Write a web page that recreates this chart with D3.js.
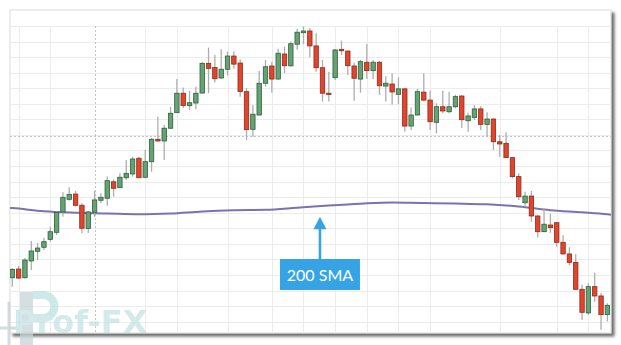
<!DOCTYPE html>
<html><head><meta charset="utf-8">
<script src="https://cdn.jsdelivr.net/npm/d3@7"></script>
<style>html,body{margin:0;padding:0;background:#fff;}svg{display:block;}</style>
</head><body>
<svg id="chart" width="621" height="345"></svg>
<script>
// ---- data (candle index 0..94) ----
const openP = [
38.2, 43.8, 38.2, 49.0, 55.2, 57.8, 62.9, 67.4, 80.5, 88.6,
92.0, 84.8, 69.9, 80.3, 88.0, 89.3, 99.9, 96.1, 102.5, 104.9,
115.0, 102.8, 112.8, 127.2, 126.1, 134.3, 144.3, 156.8, 148.8, 150.5,
156.9, 176.0, 173.3, 166.6, 172.2, 180.7, 176.2, 157.8, 133.6, 142.8,
163.2, 174.3, 165.9, 182.0, 174.4, 188.3, 195.7, 196.8, 187.2, 173.2,
156.8, 166.8, 185.0, 183.9, 174.3, 165.9, 176.7, 171.3, 176.7, 161.4,
162.7, 156.1, 159.6, 135.7, 142.8, 157.5, 152.4, 138.1, 148.1, 144.9,
148.1, 155.0, 139.1, 141.3, 146.7, 136.8, 140.2, 125.6, 124.6, 115.4,
103.2, 86.4, 90.7, 77.9, 67.8, 72.1, 73.6, 61.0, 53.5, 48.1,
30.8, 15.6, 32.5, 26.5, 14.5];
const highP = [
44.5, 45.8, 50.9, 61.8, 60.5, 63.9, 71.0, 81.1, 93.1, 96.3,
94.0, 86.1, 81.1, 94.0, 92.5, 103.2, 101.5, 105.3, 113.9, 116.0,
116.0, 120.3, 128.0, 141.7, 136.4, 148.1, 165.9, 160.5, 158.4, 161.0,
176.9, 186.1, 181.4, 185.0, 183.5, 183.8, 178.6, 160.0, 149.2, 171.2,
178.2, 177.1, 185.4, 186.7, 190.0, 198.2, 199.8, 198.7, 195.3, 178.2,
170.6, 185.2, 190.6, 184.3, 176.4, 178.2, 188.4, 178.2, 177.5, 167.9,
169.6, 166.9, 160.2, 147.6, 159.6, 169.6, 158.4, 150.3, 158.4, 157.8,
155.9, 155.7, 144.3, 149.2, 148.6, 144.5, 140.9, 130.0, 131.7, 115.8,
105.3, 93.5, 94.0, 78.5, 82.8, 79.2, 74.0, 65.7, 57.8, 53.5,
33.9, 34.6, 41.5, 28.6, 21.8];
const lowP = [
32.5, 37.4, 37.7, 43.2, 49.6, 56.0, 61.4, 65.7, 77.4, 87.7,
83.9, 66.8, 67.0, 77.4, 86.1, 84.5, 90.3, 95.7, 101.0, 103.2,
102.3, 102.1, 106.4, 125.8, 113.9, 133.8, 144.1, 147.1, 146.0, 146.5,
156.6, 156.8, 163.7, 165.9, 168.2, 172.5, 154.6, 126.7, 128.9, 142.5,
161.0, 157.1, 165.6, 169.6, 174.0, 184.8, 188.4, 179.9, 170.6, 151.4,
151.4, 165.3, 181.4, 168.5, 152.0, 157.1, 165.9, 165.9, 155.7, 151.4,
149.6, 149.9, 132.1, 133.2, 142.5, 151.4, 133.2, 131.0, 143.9, 143.9,
147.1, 134.5, 132.1, 139.6, 133.2, 128.9, 120.3, 116.0, 115.2, 102.1,
88.2, 83.9, 74.2, 64.1, 67.6, 67.1, 58.2, 53.2, 46.2, 30.7,
11.1, 14.3, 22.8, 4.8, 10.1];
const closeP = [
43.6, 38.0, 49.6, 55.4, 57.3, 61.4, 67.8, 80.3, 89.9, 91.8,
84.8, 70.0, 80.5, 88.2, 89.9, 100.6, 95.7, 102.8, 105.3, 114.5,
102.5, 112.8, 127.2, 126.1, 134.3, 143.9, 156.8, 148.9, 150.7, 156.8,
176.0, 172.8, 166.1, 172.2, 180.7, 175.5, 157.9, 133.4, 143.3, 163.2,
173.8, 165.9, 182.5, 174.5, 188.6, 196.0, 196.8, 187.2, 173.2, 156.8,
156.3, 184.6, 184.1, 174.5, 166.4, 177.1, 171.3, 176.7, 161.6, 163.2,
157.6, 159.6, 135.7, 142.8, 157.8, 152.4, 138.5, 148.1, 145.4, 148.1,
154.6, 139.8, 142.2, 146.7, 136.8, 140.2, 125.6, 124.2, 115.4, 103.2,
90.3, 90.7, 77.9, 67.8, 72.6, 70.4, 61.0, 53.5, 48.1, 30.8,
16.0, 32.5, 26.5, 14.5, 20.5];

// 200 SMA, read at candle positions
const smaIndex = [-0.36, 0, 5, 10, 15, 20, 25, 30, 35, 40, 45, 50, 55, 60, 65, 70, 75, 80, 85, 90, 94, 94.73];
const smaValue = [83.1, 83.0, 80.9, 80.0, 79.5, 79.0, 79.5, 80.8, 81.6, 81.9, 83.2, 84.6, 85.8, 86.6, 86.2, 85.9, 85.4, 84.0, 81.6, 80.3, 79.0, 78.6];

// grid ticks
const timeGridIndex = [1, 6, 21, 26, 34, 41, 46, 51, 56, 61, 66, 77, 86, 91];
const priceGrid = d3.range(10, 201, 10);
const crossIndex = 13;
const crossPrice = 129.3;
const annotationLabel = "200 SMA";
const annotationIndex = 48.6;
const annotationTipPrice = 77.4;
const watermarkText = "Prof-FX";

// ---- drawing ----
const svg = d3.select("#chart");
const W = 621, H = 345;
const box = {x0: 10, y0: 10, x1: 611, y1: 333};
const plotTop = 26;

const x = d3.scaleLinear().domain([-0.36, 94.73]).range([10, 612]);
const y = d3.scaleLinear().domain([0, 200]).range([337.2, 26]);

const defs = svg.append("defs");
const f = defs.append("filter").attr("id", "shadow").attr("x", "-5%").attr("y", "-5%").attr("width", "115%").attr("height", "120%");
f.append("feDropShadow").attr("dx", 3).attr("dy", 3).attr("stdDeviation", 1.6)
  .attr("flood-color", "#3a3a3a").attr("flood-opacity", 0.75);
defs.append("clipPath").attr("id", "clip").append("rect")
  .attr("x", box.x0).attr("y", box.y0).attr("width", box.x1 - box.x0).attr("height", box.y1 - box.y0);

svg.append("rect").attr("width", W).attr("height", H).attr("fill", "#fff");
svg.append("rect")
  .attr("x", box.x0).attr("y", box.y0).attr("width", box.x1 - box.x0).attr("height", box.y1 - box.y0)
  .attr("fill", "#fff").attr("stroke", "#dcdcdc").attr("stroke-width", 1)
  .attr("filter", "url(#shadow)");

const g = svg.append("g").attr("clip-path", "url(#clip)");

// horizontal grid
g.append("g").selectAll("line").data(priceGrid).join("line")
  .attr("x1", box.x0).attr("x2", box.x1)
  .attr("y1", d => Math.round(y(d)) + 0.5).attr("y2", d => Math.round(y(d)) + 0.5)
  .attr("stroke", "#ececec").attr("stroke-width", 1);
// vertical grid
g.append("g").selectAll("line").data(timeGridIndex).join("line")
  .attr("x1", d => Math.round(x(d)) + 0.5).attr("x2", d => Math.round(x(d)) + 0.5)
  .attr("y1", plotTop).attr("y2", box.y1)
  .attr("stroke", "#ececec").attr("stroke-width", 1);
// crosshair
g.append("line")
  .attr("x1", Math.round(x(crossIndex)) + 0.5).attr("x2", Math.round(x(crossIndex)) + 0.5)
  .attr("y1", plotTop).attr("y2", box.y1)
  .attr("stroke", "#c4c4c4").attr("stroke-dasharray", "2,2");
g.append("line")
  .attr("x1", box.x0).attr("x2", box.x1)
  .attr("y1", Math.round(y(crossPrice)) + 0.5).attr("y2", Math.round(y(crossPrice)) + 0.5)
  .attr("stroke", "#c4c4c4").attr("stroke-dasharray", "2,2");

// SMA line
const smaPts = smaIndex.map((d, i) => [d, smaValue[i]]);
g.append("path").datum(smaPts)
  .attr("d", d3.line().x(d => x(d[0])).y(d => y(d[1])).curve(d3.curveMonotoneX))
  .attr("fill", "none").attr("stroke", "#7d70b3").attr("stroke-width", 2);

// candles
const candles = openP.map((o, i) => ({i, o, h: highP[i], l: lowP[i], c: closeP[i]}));
const bw = 4.4;
const cg = g.append("g");
cg.selectAll("line.wick").data(candles).join("line").attr("class", "wick")
  .attr("x1", d => x(d.i)).attr("x2", d => x(d.i))
  .attr("y1", d => y(d.h)).attr("y2", d => y(d.l))
  .attr("stroke", "#adadad").attr("stroke-width", 1.3);
cg.selectAll("rect.body").data(candles).join("rect").attr("class", "body")
  .attr("x", d => x(d.i) - bw / 2).attr("width", bw)
  .attr("y", d => y(Math.max(d.o, d.c)))
  .attr("height", d => Math.max(1.2, Math.abs(y(d.o) - y(d.c))))
  .attr("fill", d => d.c >= d.o ? "#64a474" : "#e2442c")
  .attr("stroke", d => d.c >= d.o ? "#2f5d3a" : "#8e2a1b")
  .attr("stroke-width", 0.8);

// annotation
const ax = x(annotationIndex);
const tipY = y(annotationTipPrice);
const boxTop = 259, boxH = 31, boxW = 80;
const blue = "#36a4e4";
svg.append("line").attr("x1", ax).attr("x2", ax).attr("y1", tipY + 10).attr("y2", boxTop)
  .attr("stroke", blue).attr("stroke-width", 2.6);
svg.append("path")
  .attr("d", `M${ax},${tipY} L${ax - 6.5},${tipY + 12.5} L${ax + 6.5},${tipY + 12.5} Z`)
  .attr("fill", blue);
svg.append("rect").attr("x", ax - boxW / 2).attr("y", boxTop).attr("width", boxW).attr("height", boxH)
  .attr("fill", blue);
svg.append("text").attr("x", ax).attr("y", boxTop + boxH / 2 + 6)
  .attr("text-anchor", "middle").attr("fill", "#fff")
  .attr("font-family", "Lato, 'Open Sans', sans-serif").attr("font-size", 16)
  .text(annotationLabel);

// watermark logo: decorative big "P" mark + wordmark text
const wm = svg.append("g").attr("opacity", 0.75);
wm.append("line").attr("x1", 9).attr("x2", 9).attr("y1", 302).attr("y2", 345).attr("stroke", "#c9cfd2").attr("stroke-width", 3);
wm.append("line").attr("x1", 0).attr("x2", 22).attr("y1", 328).attr("y2", 328).attr("stroke", "#c9cfd2").attr("stroke-width", 3);
wm.append("rect").attr("x", 20).attr("y", 292).attr("width", 13).attr("height", 53).attr("fill", "#c7d3d6");
wm.append("path").attr("d", "M33,295 H43 A11.5,11.5 0 0 1 43,318 H33")
  .attr("fill", "none").attr("stroke", "#bfe2e2").attr("stroke-width", 8);
wm.append("text").attr("x", 13).attr("y", 333)
  .attr("font-family", "'DejaVu Sans', sans-serif").attr("font-weight", 700)
  .attr("font-size", 32).attr("fill", "#c3e3e3").text(watermarkText);
</script>
</body></html>
